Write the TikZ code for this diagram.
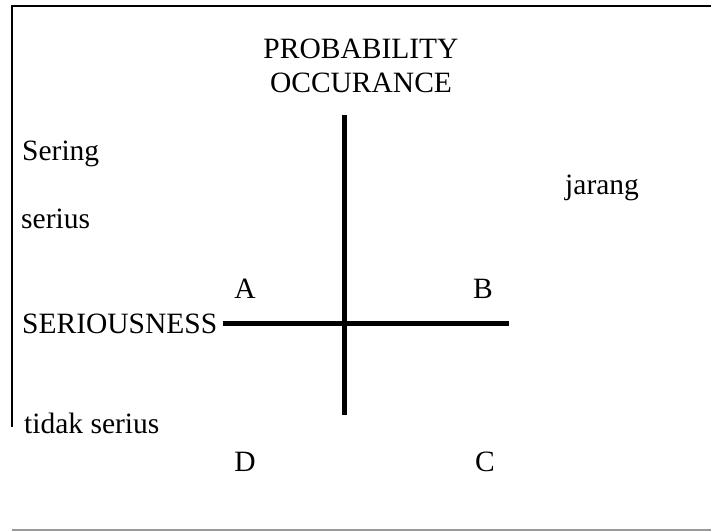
\documentclass[tikz,border=0pt]{standalone}
\usepackage{fontspec}
\setmainfont{Liberation Serif}
\tikzset{
  lbl/.style={inner sep=0pt, font=\fontsize{29.5}{34}\selectfont},
  axis/.style={line width=5pt, black},
  frameline/.style={line width=2pt, black},
  greyline/.style={line width=1.5pt, black!40}
}
\begin{document}
\begin{tikzpicture}[x=1pt,y=-1pt]
\useasboundingbox (0,0) rectangle (711,531);
% frame
\coordinate (ftl) at (12,6);
\coordinate (ftr) at (711,6);
\coordinate (fbl) at (12,427);
\coordinate (gl) at (12,530);
\coordinate (gr) at (711,530);
\draw[frameline] (ftr) -- (ftl) -- (fbl);
\draw[greyline] (gl) -- (gr);
% axes
\coordinate (hl) at (223,323.5);
\coordinate (hr) at (509,323.5);
\coordinate (vt) at (344,115);
\coordinate (vb) at (344,415);
\draw[axis] (hl) -- (hr);
\draw[axis] (vt) -- (vb);
% labels
\node[lbl, anchor=base, align=center] (prob) at (361,92) {PROBABILITY\\OCCURANCE};
\node[lbl, anchor=base west] (sering) at (22,160) {Sering};
\node[lbl, anchor=base west] (serius) at (21,228) {serius};
\node[lbl, anchor=base west] (jarang) at (565,194) {jarang};
\node[lbl, anchor=base west] (seriousness) at (22,333) {SERIOUSNESS};
\node[lbl, anchor=base west] (tidak) at (24,433) {tidak serius};
\node[lbl, anchor=base] (A) at (245,298) {A};
\node[lbl, anchor=base] (B) at (483,298) {B};
\node[lbl, anchor=base] (D) at (245,471) {D};
\node[lbl, anchor=base] (C) at (485,471) {C};
\end{tikzpicture}
\end{document}
